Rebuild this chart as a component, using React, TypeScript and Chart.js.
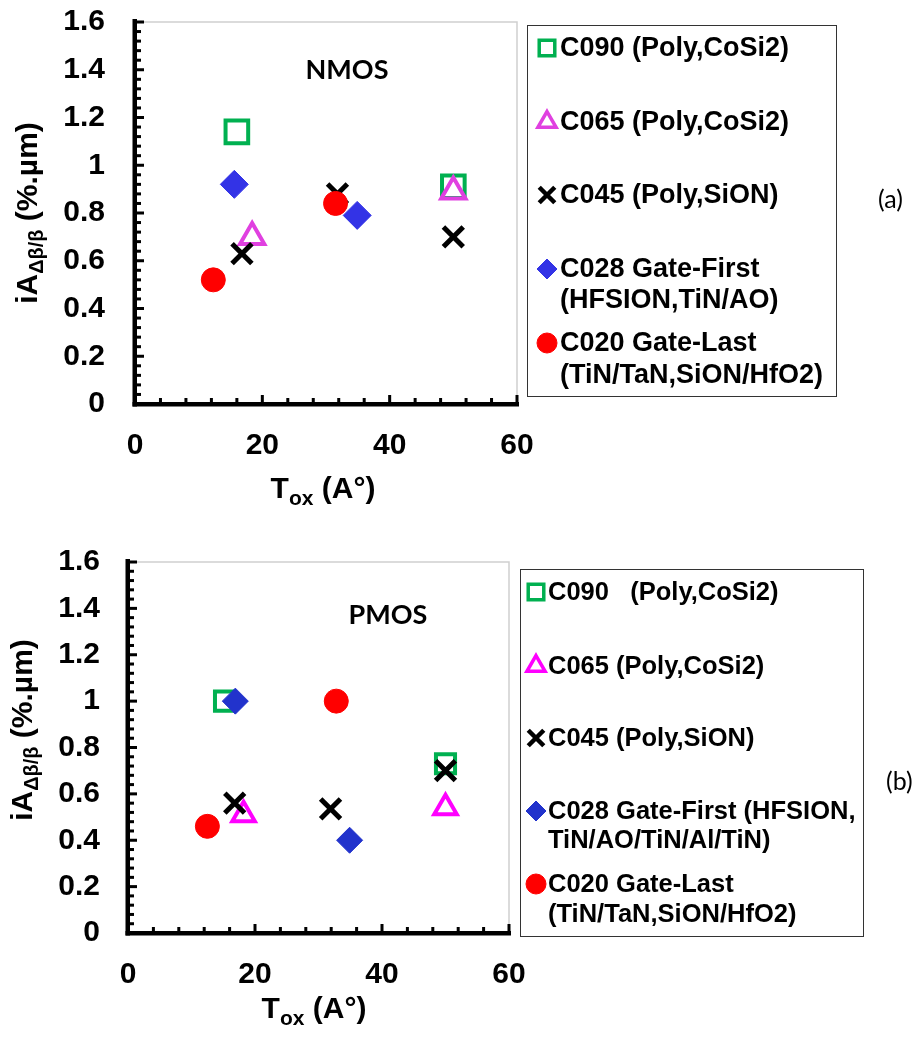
import React, { useEffect, useRef } from 'react';
import { Chart, registerables } from 'chart.js';
import { drawPoint } from 'chart.js/helpers';

Chart.register(...registerables);

// ---------- DATA ----------
// (a) NMOS : x = Tox (A°), y = iA (%.µm)
const nmosC090 = [{ x: 16, y: 1.14 }, { x: 50, y: 0.91 }];
const nmosC065 = [{ x: 18.4, y: 0.70 }, { x: 50, y: 0.89 }];
const nmosC045 = [{ x: 16.8, y: 0.63 }, { x: 31.8, y: 0.88 }, { x: 50, y: 0.70 }];
const nmosC028 = [{ x: 15.6, y: 0.92 }, { x: 34.9, y: 0.79 }];
const nmosC020 = [{ x: 12.3, y: 0.52 }, { x: 31.5, y: 0.84 }];

// (b) PMOS
const pmosC090 = [{ x: 15.2, y: 1.0 }, { x: 50, y: 0.73 }];
const pmosC065 = [{ x: 18.2, y: 0.51 }, { x: 50, y: 0.54 }];
const pmosC045 = [{ x: 16.8, y: 0.56 }, { x: 31.9, y: 0.535 }, { x: 50, y: 0.70 }];
const pmosC028 = [{ x: 16.9, y: 1.0 }, { x: 34.9, y: 0.40 }];
const pmosC020 = [{ x: 12.5, y: 0.46 }, { x: 32.8, y: 1.0 }];

const nmosLabels = [
  ['C090 (Poly,CoSi2)'],
  ['C065 (Poly,CoSi2)'],
  ['C045 (Poly,SiON)'],
  ['C028 Gate-First', '(HFSION,TiN/AO)'],
  ['C020 Gate-Last', '(TiN/TaN,SiON/HfO2)'],
];
const pmosLabels = [
  ['C090   (Poly,CoSi2)'],
  ['C065 (Poly,CoSi2)'],
  ['C045 (Poly,SiON)'],
  ['C028 Gate-First (HFSION,', 'TiN/AO/TiN/Al/TiN)'],
  ['C020 Gate-Last', '(TiN/TaN,SiON/HfO2)'],
];

const xMajorTicks = [0, 20, 40, 60];
const xTickLabels = ['0', '20', '40', '60'];
const yMajorTicks = [0, 0.2, 0.4, 0.6, 0.8, 1, 1.2, 1.4, 1.6];
const yTickLabels = ['0', '0.2', '0.4', '0.6', '0.8', '1', '1.2', '1.4', '1.6'];

// ---------- STYLE ----------
const FONT = '"Liberation Sans", Arimo, Arial, sans-serif';
const LATO = 'Lato, sans-serif';

type Style = { pointStyle: string; color: string; fill: boolean; radius: number; bw: number; lr: number; lbw: number };

const stylesA: Style[] = [
  { pointStyle: 'rect', color: '#00B050', fill: false, radius: 16, bw: 4, lr: 11, lbw: 3.5 },
  { pointStyle: 'triangle', color: '#E040E0', fill: false, radius: 14, bw: 4, lr: 10.5, lbw: 3.5 },
  { pointStyle: 'crossRot', color: '#000000', fill: false, radius: 14, bw: 5, lr: 11, lbw: 4.5 },
  { pointStyle: 'rectRot', color: '#3333E6', fill: true, radius: 14, bw: 1, lr: 10, lbw: 1 },
  { pointStyle: 'circle', color: '#FF0000', fill: true, radius: 12, bw: 1, lr: 10, lbw: 1 },
];
const stylesB: Style[] = [
  { pointStyle: 'rect', color: '#00B050', fill: false, radius: 13.5, bw: 4, lr: 11, lbw: 3.5 },
  { pointStyle: 'triangle', color: '#FF00FF', fill: false, radius: 13, bw: 4, lr: 10.5, lbw: 3.5 },
  { pointStyle: 'crossRot', color: '#000000', fill: false, radius: 14, bw: 5, lr: 11, lbw: 4.5 },
  { pointStyle: 'rectRot', color: '#2233CC', fill: true, radius: 13, bw: 1, lr: 10, lbw: 1 },
  { pointStyle: 'circle', color: '#FF0000', fill: true, radius: 12, bw: 1, lr: 10, lbw: 1 },
];

type Panel = {
  top: number;
  height: number;
  area: { left: number; top: number; right: number; bottom: number };
  yLabelGap: number;
  series: { x: number; y: number }[][];
  labels: string[][];
  styles: Style[];
  tag: string;
  tagPos: [number, number];
  side: string;
  sidePos: [number, number];
  legendBox: [number, number, number, number];
  legendMarkerX: number;
  legendTextX: number;
  legendRows: number[][];
  legendFont: number;
  yTitleX: number;
  yTitleY: number;
  xTitleX: number;
  xTitleY: number;
};

const panelA: Panel = {
  top: 0,
  height: 520,
  area: { left: 135, top: 22, right: 517, bottom: 404 },
  yLabelGap: 30,
  series: [nmosC090, nmosC065, nmosC045, nmosC028, nmosC020],
  labels: nmosLabels,
  styles: stylesA,
  tag: 'NMOS',
  tagPos: [347, 70],
  side: '(a)',
  sidePos: [878, 200],
  legendBox: [527.5, 25.5, 309, 371],
  legendMarkerX: 547,
  legendTextX: 560,
  legendRows: [[48], [122], [195], [269, 300], [343, 375]],
  legendFont: 27,
  yTitleX: 37,
  yTitleY: 213,
  xTitleX: 323,
  xTitleY: 498,
};

const panelB: Panel = {
  top: 520,
  height: 519,
  area: { left: 128, top: 42, right: 509, bottom: 413 },
  yLabelGap: 28,
  series: [pmosC090, pmosC065, pmosC045, pmosC028, pmosC020],
  labels: pmosLabels,
  styles: stylesB,
  tag: 'PMOS',
  tagPos: [388, 95],
  side: '(b)',
  sidePos: [886, 262],
  legendBox: [520.5, 49.5, 343, 367],
  legendMarkerX: 536,
  legendTextX: 548,
  legendRows: [[72], [146], [218], [291, 320], [364, 394]],
  legendFont: 25.5,
  yTitleX: 32,
  yTitleY: 210,
  xTitleX: 314,
  xTitleY: 498,
};

const isMult = (v: number, s: number) => Math.abs(v / s - Math.round(v / s)) < 1e-6;

function drawRich(ctx: CanvasRenderingContext2D, parts: { t: string; size: number; dy: number }[], x: number, y: number) {
  let total = 0;
  const widths = parts.map((p) => {
    ctx.font = `bold ${p.size}px ${FONT}`;
    const w = ctx.measureText(p.t).width;
    total += w;
    return w;
  });
  let cx = x - total / 2;
  ctx.textAlign = 'left';
  ctx.textBaseline = 'alphabetic';
  parts.forEach((p, i) => {
    ctx.font = `bold ${p.size}px ${FONT}`;
    ctx.fillText(p.t, cx, y + p.dy);
    cx += widths[i];
  });
}

function makePlugin(p: Panel) {
  return {
    id: 'decor',
    beforeDatasetsDraw(chart: any) {
      const { ctx, chartArea: a, scales } = chart;
      const xs = scales.x;
      const ys = scales.y;
      ctx.save();
      ctx.strokeStyle = '#D0D0D0';
      ctx.lineWidth = 1.5;
      ctx.beginPath();
      ctx.moveTo(a.left, a.top);
      ctx.lineTo(a.right, a.top);
      ctx.lineTo(a.right, a.bottom);
      ctx.stroke();
      ctx.fillStyle = '#000';
      ctx.fillRect(a.left - 2.5, a.top - 3, 4.5, a.bottom - a.top + 5.5);
      ctx.fillRect(a.left - 2.5, a.bottom - 2, a.right - a.left + 4.5, 4.5);
      ys.ticks.forEach((t: any) => {
        const px = ys.getPixelForValue(t.value);
        const major = isMult(t.value, 0.2);
        ctx.fillRect(a.left, px - 1.5, major ? 9 : 6, 3);
      });
      xs.ticks.forEach((t: any) => {
        const px = xs.getPixelForValue(t.value);
        const major = isMult(t.value, 20);
        const len = major ? 9 : 6;
        ctx.fillRect(px - 1.5, a.bottom - len, 3, len);
      });
      ctx.restore();
    },
    afterDraw(chart: any) {
      const ctx: CanvasRenderingContext2D = chart.ctx;
      ctx.save();
      ctx.fillStyle = '#000';
      // y title
      ctx.save();
      ctx.translate(p.yTitleX, p.yTitleY);
      ctx.rotate(-Math.PI / 2);
      drawRich(
        ctx,
        [
          { t: 'iA', size: 30, dy: 0 },
          { t: 'Δβ/β', size: 20, dy: 6 },
          { t: ' (%.µm)', size: 30, dy: 0 },
        ],
        0,
        0
      );
      ctx.restore();
      // x title
      drawRich(
        ctx,
        [
          { t: 'T', size: 30, dy: 0 },
          { t: 'ox', size: 21, dy: 7 },
          { t: ' (A°)', size: 30, dy: 0 },
        ],
        p.xTitleX,
        p.xTitleY
      );
      // tag
      ctx.font = `bold 27px ${LATO}`;
      ctx.textAlign = 'center';
      ctx.textBaseline = 'middle';
      ctx.fillText(p.tag, p.tagPos[0], p.tagPos[1]);
      // side label
      ctx.font = `25px ${LATO}`;
      ctx.textAlign = 'left';
      ctx.fillText(p.side, p.sidePos[0], p.sidePos[1]);
      // legend
      const [bx, by, bw, bh] = p.legendBox;
      ctx.strokeStyle = '#333';
      ctx.lineWidth = 1;
      ctx.strokeRect(bx, by, bw, bh);
      p.labels.forEach((lines, i) => {
        const st = p.styles[i];
        const rows = p.legendRows[i];
        ctx.save();
        ctx.fillStyle = st.fill ? st.color : 'rgba(0,0,0,0)';
        ctx.strokeStyle = st.color;
        ctx.lineWidth = st.lbw;
        drawPoint(ctx, { pointStyle: st.pointStyle as any, radius: st.lr, borderWidth: st.lbw, rotation: 0 } as any, p.legendMarkerX, rows[0]);
        ctx.restore();
        ctx.font = `bold ${p.legendFont}px ${FONT}`;
        ctx.fillStyle = '#000';
        ctx.textAlign = 'left';
        ctx.textBaseline = 'middle';
        lines.forEach((ln, j) => ctx.fillText(ln, p.legendTextX, rows[j] + 1));
      });
      ctx.restore();
    },
  };
}

function PanelChart({ p }: { p: Panel }) {
  const ref = useRef<HTMLCanvasElement>(null);
  useEffect(() => {
    const canvas = ref.current!;
    const W = 917;
    const datasets = p.series.map((data, i) => {
      const st = p.styles[i];
      return {
        label: p.labels[i].join(' '),
        data,
        order: 4 - i,
        showLine: false,
        pointStyle: st.pointStyle,
        pointRadius: st.radius,
        pointHoverRadius: st.radius,
        pointBorderWidth: st.bw,
        pointBorderColor: st.color,
        pointBackgroundColor: st.fill ? st.color : 'rgba(0,0,0,0)',
        borderColor: st.color,
        backgroundColor: st.fill ? st.color : 'rgba(0,0,0,0)',
      };
    });
    const chart = new Chart(canvas, {
      type: 'scatter',
      data: { datasets } as any,
      options: {
        animation: false,
        responsive: false,
        maintainAspectRatio: false,
        events: [],
        layout: { padding: { left: 0, top: p.area.top, right: W - p.area.right, bottom: 0 } },
        plugins: { legend: { display: false }, tooltip: { enabled: false } },
        scales: {
          x: {
            type: 'linear',
            min: 0,
            max: 60,
            grid: { display: false, drawTicks: true, tickLength: 22 },
            border: { display: false },
            afterFit: (s: any) => {
              s.height = p.height - p.area.bottom;
            },
            ticks: {
              stepSize: 4,
              autoSkip: false,
              maxRotation: 0,
              padding: 2,
              color: '#000',
              font: { family: FONT, weight: 'bold', size: 30 },
              callback: (v: any) => {
                const k = xMajorTicks.findIndex((m) => Math.abs(m - v) < 1e-6);
                return k >= 0 ? xTickLabels[k] : '';
              },
            },
          },
          y: {
            type: 'linear',
            min: 0,
            max: 1.6,
            grid: { display: false, drawTicks: true, tickLength: p.yLabelGap - 2 },
            border: { display: false },
            afterFit: (s: any) => {
              s.width = p.area.left;
            },
            ticks: {
              stepSize: 0.04,
              autoSkip: false,
              padding: 2,
              color: '#000',
              font: { family: FONT, weight: 'bold', size: 30 },
              callback: (v: any) => {
                const k = yMajorTicks.findIndex((m) => Math.abs(m - v) < 1e-6);
                return k >= 0 ? yTickLabels[k] : '';
              },
            },
          },
        },
      } as any,
      plugins: [makePlugin(p)],
    });
    return () => chart.destroy();
  }, []);
  return (
    <div style={{ position: 'absolute', left: 0, top: p.top, width: 917, height: p.height }}>
      <canvas ref={ref} width={917} height={p.height} style={{ width: 917, height: p.height, display: 'block' }} />
    </div>
  );
}

export default function App() {
  return (
    <div style={{ position: 'absolute', left: 0, top: 0, width: 917, height: 1039, background: '#fff' }}>
      <PanelChart p={panelA} />
      <PanelChart p={panelB} />
    </div>
  );
}
